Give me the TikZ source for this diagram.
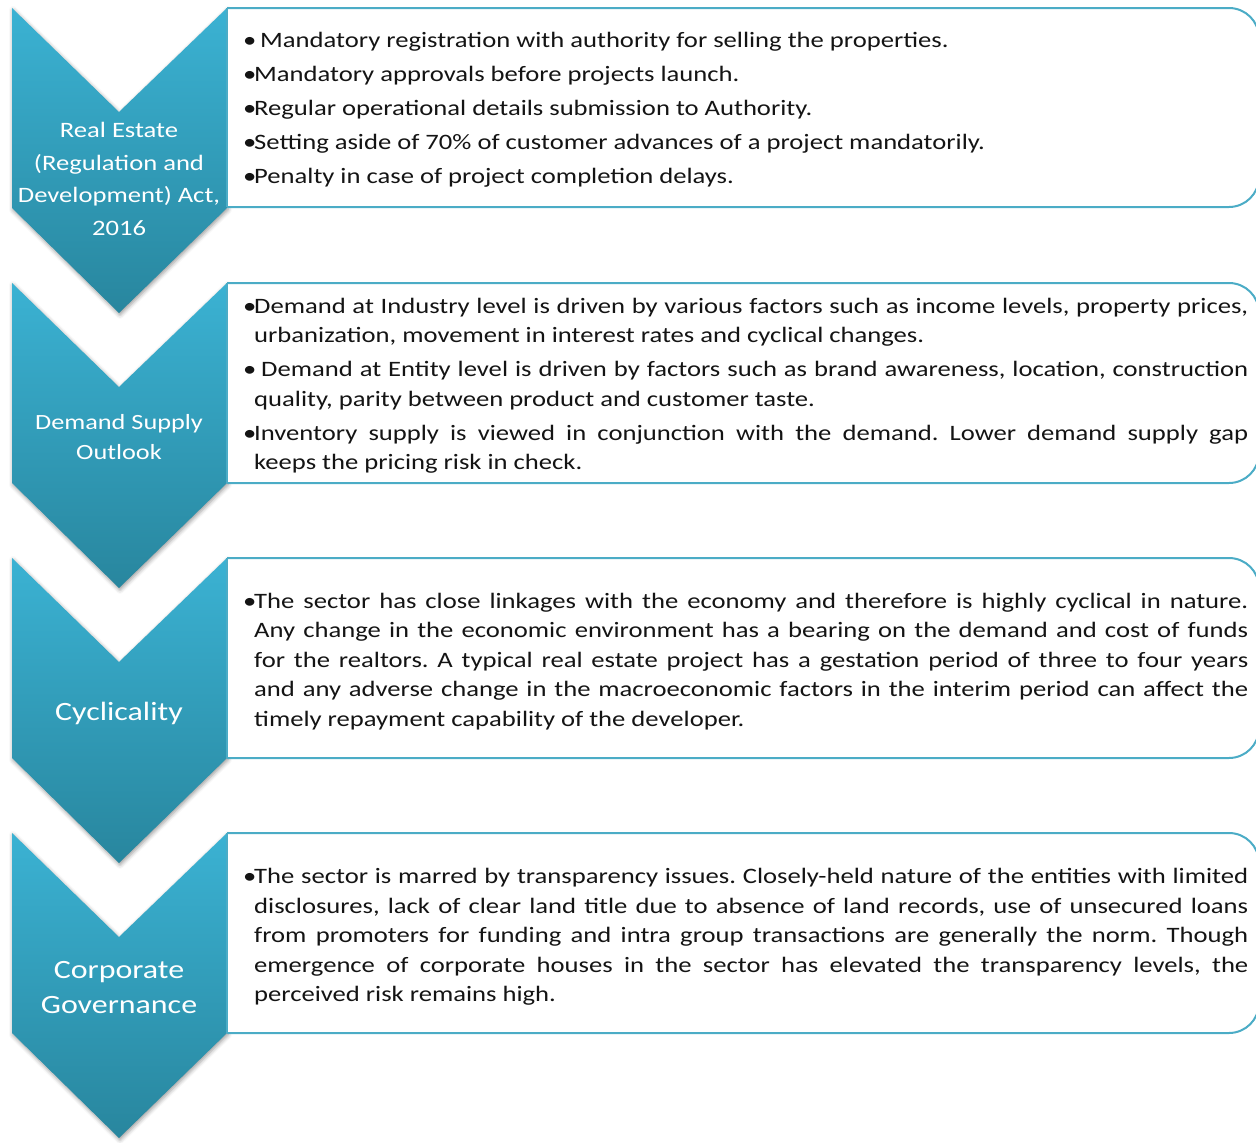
\documentclass[tikz,border=0pt]{standalone}
\usepackage{fontspec}
\setmainfont{Carlito}[FakeStretch=1.21]
\usetikzlibrary{shadows.blur}
\definecolor{chevtop}{RGB}{59,178,211}
\definecolor{chevbot}{RGB}{40,134,158}
\definecolor{boxline}{RGB}{75,172,198}
\definecolor{bodytext}{RGB}{20,20,20}
\newcommand{\bitem}[1]{\par\hangindent=11pt\hangafter=1\noindent\makebox[11pt][l]{\textbullet}#1\par}
\newcommand{\chevpath}[1]{(12,#1) -- (119,#1+104) -- (227,#1) -- (227,#1+200) -- (119,#1+305) -- (12,#1+200) -- cycle}
\frenchspacing
\begin{document}
\begin{tikzpicture}[x=1pt,y=-1pt,
  chev/.style={top color=chevtop, bottom color=chevbot, blur shadow={shadow xshift=1pt, shadow yshift=-2pt, shadow blur radius=4pt, shadow opacity=40}},
  infobox/.style={draw=boxline, line width=2pt, fill=white, rounded corners=30pt},
  boxedge/.style={draw=boxline, line width=2pt},
  chevlabel/.style={text=white, align=center, inner sep=0pt},
  boxtext/.style={anchor=west, text width=1005pt, align=justify, inner sep=0pt, font=\fontsize{22}{29.5}\selectfont\setlength{\parskip}{4.5pt}\frenchspacing, text=bodytext},
]
\useasboundingbox (0,0) rectangle (1256,1143);

% chevrons
\path[chev] \chevpath{8};
\path[chev] \chevpath{283};
\path[chev] \chevpath{558};
\path[chev] \chevpath{833};

% boxes
\draw[infobox] (227,8) -- (1259,8) -- (1259,207) -- (227,207);
\draw[boxedge] (227,8) -- (227,207);
\draw[infobox] (227,283) -- (1259,283) -- (1259,483) -- (227,483);
\draw[boxedge] (227,283) -- (227,483);
\draw[infobox] (227,558) -- (1259,558) -- (1259,758) -- (227,758);
\draw[boxedge] (227,558) -- (227,758);
\draw[infobox] (227,833) -- (1259,833) -- (1259,1033) -- (227,1033);
\draw[boxedge] (227,833) -- (227,1033);

% chevron labels
\node[chevlabel, font=\fontsize{22}{32.5}\selectfont] (c1) at (119,179) {Real Estate\\(Regulation and\\Development) Act,\\2016};
\node[chevlabel, font=\fontsize{21.7}{30}\selectfont] (c2) at (119,437) {Demand Supply\\Outlook};
\node[chevlabel, font=\fontsize{26.4}{34}\selectfont] (c3) at (119,713) {Cyclicality};
\node[chevlabel, font=\fontsize{26.4}{35}\selectfont] (c4) at (119,988) {Corporate\\Governance};

% box texts
\node[boxtext] (t1) at (243,100.5) {%
\bitem{\ Mandatory registration with authority for selling the properties.}
\bitem{Mandatory approvals before projects launch.}
\bitem{Regular operational details submission to Authority.}
\bitem{Setting aside of 70\% of customer advances of a project mandatorily.}
\bitem{Penalty in case of project completion delays.}};

\node[boxtext] (t2) at (243,376.5) {%
\bitem{Demand at Industry level is driven by various factors such as income levels, property prices,\linebreak urbanization, movement in interest rates and cyclical changes.}
\bitem{\ Demand at Entity level is driven by factors such as brand awareness, location, construction\linebreak quality, parity between product and customer taste.}
\bitem{Inventory supply is viewed in conjunction with the demand. Lower demand supply gap\linebreak keeps the pricing risk in check.}};

\node[boxtext] (t3) at (243,652) {%
\bitem{The sector has close linkages with the economy and therefore is highly cyclical in nature.\linebreak Any change in the economic environment has a bearing on the demand and cost of funds\linebreak for the realtors. A typical real estate project has a gestation period of three to four years\linebreak and any adverse change in the macroeconomic factors in the interim period can affect the\linebreak timely repayment capability of the developer.}};

\node[boxtext] (t4) at (243,927.5) {%
\bitem{The sector is marred by transparency issues. Closely-held nature of the entities with limited\linebreak disclosures, lack of clear land title due to absence of land records, use of unsecured loans\linebreak from promoters for funding and intra group transactions are generally the norm. Though\linebreak emergence of corporate houses in the sector has elevated the transparency levels, the\linebreak perceived risk remains high.}};
\end{tikzpicture}
\end{document}
